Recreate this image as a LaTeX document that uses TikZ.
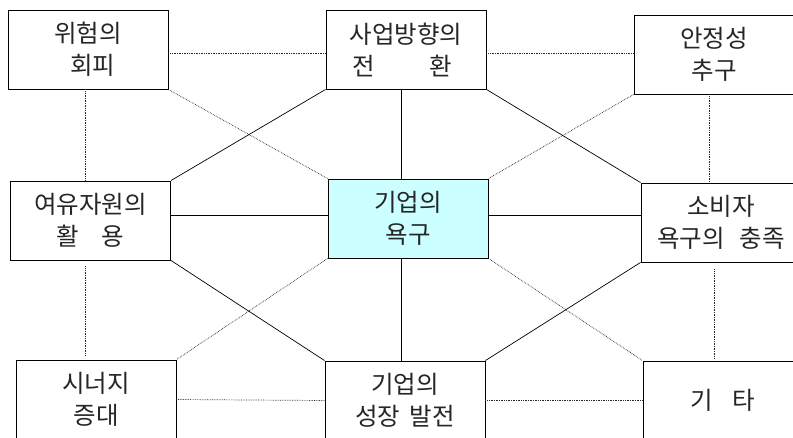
\documentclass[tikz,border=0pt]{standalone}
\usepackage{fontspec}
\newfontfamily\kr{Noto Sans CJK KR}
\definecolor{corefill}{HTML}{CCFFFF}
\begin{document}
\begin{tikzpicture}[x=1pt,y=-1pt,
  box/.style={draw=black,line width=0.9pt,minimum width=160pt,minimum height=79pt,
    inner sep=0pt,align=center,font=\kr\fontsize{24.5}{32}\selectfont,text=black!85},
  solidline/.style={line width=0.7pt,draw=black},
  dotline/.style={line width=0.7pt,draw=black!85,densely dotted}]
\useasboundingbox (0,0) rectangle (793,437);
\fill[white] (0,0) rectangle (793,437);
\clip (0,0) rectangle (793,437);
% nodes
\node[box] (risk) at (88,49.5) {위험의\\\hspace{0.4em}회피};
\node[box] (biz) at (406,49.5) {사업방향의\\\hspace{-0.3em}전\hspace{2.2em}환};
\node[box] (stab) at (714,54.5) {안정성\\추구};
\node[box] (slack) at (90.5,220.5) {여유자원의\\활\hspace{0.9em}용};
\node[box,fill=corefill] (core) at (408,218.5) {기업의\\욕구};
\node[box] (cons) at (721,222.5) {소비자\\욕구의\hspace{0.6em}충족};
\node[box] (syn) at (96,399.5) {시너지\\증대};
\node[box] (grow) at (405,400.5) {기업의\\성장\hspace{0.4em}발전};
\node[box] (etc) at (723,400.5) {기\hspace{0.8em}타};
% dotted connectors
\draw[dotline] ([yshift=-3.5pt]risk.east) -- ([yshift=-3.5pt]risk.east -| biz.west);
\draw[dotline] ([yshift=-3.5pt]biz.east) -- ([yshift=-3.5pt]biz.east -| stab.west);
\draw[dotline] ([xshift=-3pt]risk.south) -- ([xshift=-3pt]risk.south |- slack.north);
\draw[dotline] (risk.south east) -- (core.north west);
\draw[dotline] (stab.south west) -- (core.north east);
\draw[dotline] ([xshift=-5pt]stab.south) -- ([xshift=-5pt]stab.south |- cons.north);
\draw[dotline,shorten <=6pt,shorten >=4pt] ([xshift=-5.5pt]slack.south) -- ([xshift=-5.5pt]slack.south |- syn.north);
\draw[dotline,shorten <=7pt,shorten >=2pt] ([xshift=-7pt]cons.south) -- ([xshift=-7pt]cons.south |- etc.north);
\draw[dotline] (core.south west) -- (syn.north east);
\draw[dotline] (core.south east) -- (etc.north west);
\draw[dotline] (syn.east) -- (grow.west);
\draw[dotline] (grow.east) -- (etc.west);
% solid connectors
\draw[solidline] (biz.south west) -- (slack.north east);
\draw[solidline] ([xshift=-5pt]biz.south) -- ([xshift=-5pt]biz.south |- core.north);
\draw[solidline] (biz.south east) -- (cons.north west);
\draw[solidline] ([yshift=5pt]slack.east) -- ([yshift=5pt]slack.east -| core.west);
\draw[solidline] ([yshift=3.5pt]core.east) -- ([yshift=3.5pt]core.east -| cons.west);
\draw[solidline] (slack.south east) -- (grow.north west);
\draw[solidline] ([xshift=-7pt]core.south) -- ([xshift=-7pt]core.south |- grow.north);
\draw[solidline] (cons.south west) -- (grow.north east);
\end{tikzpicture}
\end{document}
